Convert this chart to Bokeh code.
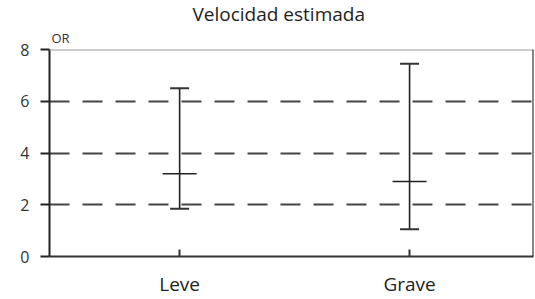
from bokeh.plotting import figure
from bokeh.models import FixedTicker, Span, Title, ColumnDataSource, Range1d
from bokeh.embed import file_html
from bokeh.resources import INLINE

categories = ["Leve", "Grave"]
x_pos = [1, 2]
or_point = [3.2, 2.9]
ci_low = [1.85, 1.05]
ci_high = [6.5, 7.45]
y_ticks = [0, 2, 4, 6, 8]
grid_ticks = [2, 4, 6]

FONT = "Open Sans"

src = ColumnDataSource(dict(x=x_pos, mid=or_point, lo=ci_low, hi=ci_high))

p = figure(width=535, height=299, output_backend="svg", toolbar_location=None,
           x_range=Range1d(0.434, 2.539), y_range=Range1d(0, 8),
           min_border_left=49, min_border_right=2, min_border_top=49, min_border_bottom=35)
p.outline_line_color = None
p.background_fill_color = "white"
p.border_fill_color = "white"

p.title.text = "Velocidad estimada"
p.title.align = "left"
p.title.offset = 143
p.title.standoff = -6
p.title.text_font = FONT
p.title.text_font_style = "normal"
p.title.text_font_size = "19px"
p.title.text_color = "#222222"

or_title = Title(text="OR", align="left", offset=2, standoff=6, text_font=FONT,
                 text_font_style="normal", text_font_size="13px", text_color="#333333")
p.add_layout(or_title, "above")

# axes
p.yaxis.ticker = FixedTicker(ticks=y_ticks)
p.yaxis.axis_line_color = "#222222"
p.yaxis.axis_line_width = 2
p.yaxis.major_tick_line_color = "#222222"
p.yaxis.major_tick_line_width = 2
p.yaxis.major_tick_out = 9
p.yaxis.major_tick_in = 0
p.yaxis.minor_tick_line_color = None
p.yaxis.major_label_standoff = 11
p.yaxis.major_label_text_font = FONT
p.yaxis.major_label_text_font_size = "16px"
p.yaxis.major_label_text_color = "#333333"

p.xaxis.ticker = FixedTicker(ticks=x_pos)
p.xaxis.major_label_overrides = {x: c for x, c in zip(x_pos, categories)}
p.xaxis.axis_line_color = "#333333"
p.xaxis.axis_line_width = 2
p.xaxis.major_tick_line_color = "#333333"
p.xaxis.major_tick_line_width = 2
p.xaxis.major_tick_in = 7
p.xaxis.major_tick_out = 0
p.xaxis.minor_tick_line_color = None
p.xaxis.major_label_standoff = 14
p.xaxis.major_label_text_font = FONT
p.xaxis.major_label_text_font_size = "19px"
p.xaxis.major_label_text_color = "#222222"

p.xgrid.grid_line_color = None
p.ygrid.ticker = FixedTicker(ticks=grid_ticks)
p.ygrid.grid_line_color = "#444444"
p.ygrid.grid_line_width = 2
p.ygrid.grid_line_dash = "20 13"

# borders
p.add_layout(Span(location=8, dimension="width", line_color="#999999", line_width=2))
p.add_layout(Span(location=2.539, dimension="height", line_color="#111111", line_width=2))

# error bars
p.segment(x0="x", y0="lo", x1="x", y1="hi", source=src, line_color="#222222", line_width=1.6)
p.scatter(x="x", y="hi", source=src, marker="dash", size=19, line_color="#333333", line_width=2)
p.scatter(x="x", y="lo", source=src, marker="dash", size=19, line_color="#333333", line_width=2)
p.scatter(x="x", y="mid", source=src, marker="dash", size=34, line_color="#222222", line_width=1.6)

open("out.html", "w").write(file_html(p, INLINE))
